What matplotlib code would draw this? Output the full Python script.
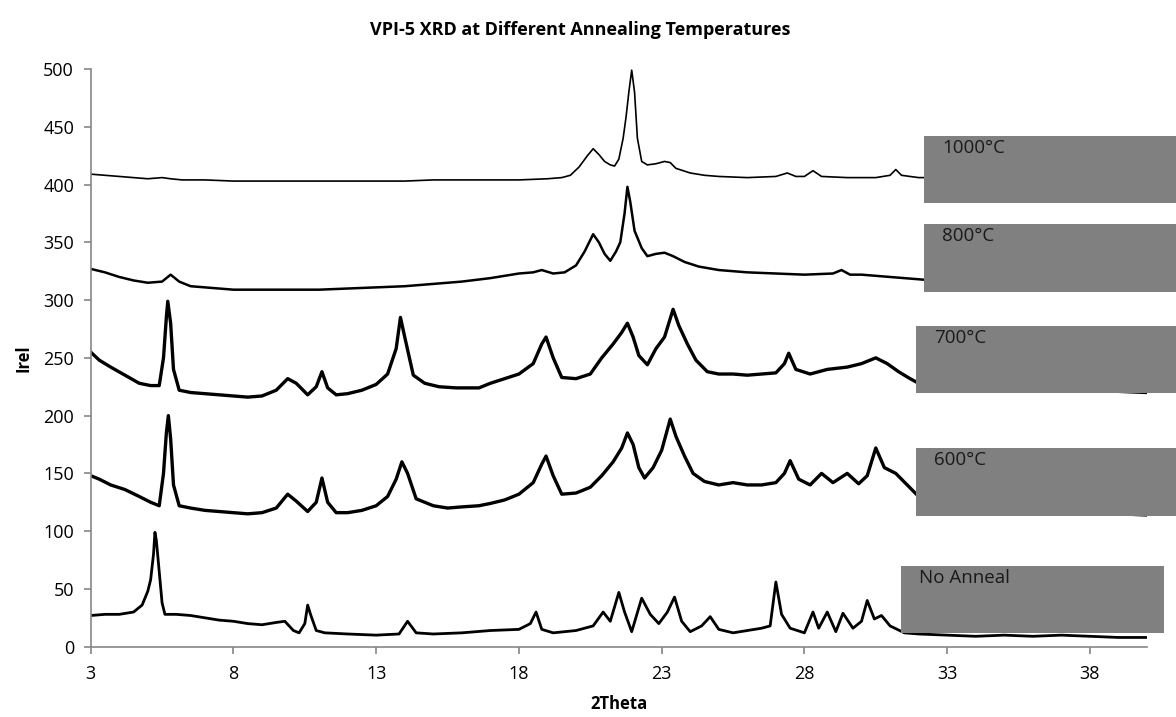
import matplotlib
matplotlib.use("Agg")
from matplotlib import pyplot as plt
from matplotlib.patches import Rectangle

# (2theta, Irel), one list per sample
no_anneal = [(3.0, 27), (3.5, 28), (4.0, 28), (4.5, 30), (4.8, 36), (5.0, 48), (5.1, 58),
             (5.2, 80), (5.25, 99), (5.3, 92), (5.4, 65), (5.5, 38), (5.6, 28), (6.0, 28),
             (6.5, 27), (7.0, 25), (7.5, 23), (8.0, 22), (8.5, 20), (9.0, 19), (9.5, 21),
             (9.8, 22), (10.1, 14), (10.3, 12), (10.5, 20), (10.6, 36), (10.7, 28), (10.9, 14),
             (11.2, 12), (12.0, 11), (13.0, 10), (13.8, 11), (14.1, 22), (14.4, 12), (15.0, 11),
             (16.0, 12), (17.0, 14), (18.0, 15), (18.4, 20), (18.6, 30), (18.8, 15), (19.2, 12),
             (20.0, 14), (20.6, 18), (20.95, 30), (21.2, 22), (21.5, 47), (21.7, 30), (21.95, 13),
             (22.3, 42), (22.6, 28), (22.9, 20), (23.2, 30), (23.45, 43), (23.7, 22), (24.0, 13),
             (24.4, 18), (24.7, 26), (25.0, 15), (25.5, 12), (26.0, 14), (26.5, 16), (26.8, 18),
             (27.0, 56), (27.2, 28), (27.5, 16), (28.0, 12), (28.3, 30), (28.5, 16), (28.8, 30),
             (29.1, 13), (29.35, 29), (29.7, 16), (30.0, 22), (30.2, 40), (30.45, 24), (30.7, 27),
             (31.0, 18), (31.5, 12), (32.0, 11), (33, 10), (34, 9), (35, 10), (36, 9), (37, 10),
             (38, 9), (39, 8), (40, 8)]

t600 = [(3.0, 148), (3.3, 145), (3.7, 140), (4.2, 136), (4.7, 130), (5.1, 125), (5.4, 122),
        (5.55, 150), (5.65, 185), (5.72, 200), (5.8, 180), (5.9, 140), (6.1, 122), (6.5, 120),
        (7.0, 118), (7.5, 117), (8.0, 116), (8.5, 115), (9.0, 116), (9.5, 120), (9.9, 132),
        (10.2, 126), (10.6, 117), (10.9, 125), (11.1, 146), (11.3, 125), (11.6, 116), (12.0, 116),
        (12.5, 118), (13.0, 122), (13.4, 130), (13.7, 145), (13.9, 160), (14.1, 150), (14.4, 128),
        (15.0, 122), (15.5, 120), (16.0, 121), (16.6, 122), (17.0, 124), (17.5, 127), (18.0, 132),
        (18.5, 142), (18.8, 158), (18.95, 165), (19.2, 148), (19.5, 132), (20.0, 133), (20.5, 138),
        (20.9, 148), (21.3, 160), (21.6, 172), (21.8, 185), (22.0, 175), (22.2, 155), (22.4, 146),
        (22.7, 155), (23.0, 170), (23.3, 197), (23.5, 182), (23.8, 165), (24.1, 150), (24.5, 143),
        (25.0, 140), (25.5, 142), (26.0, 140), (26.5, 140), (27.0, 142), (27.3, 150), (27.5, 161),
        (27.8, 145), (28.2, 140), (28.6, 150), (29.0, 142), (29.5, 150), (29.9, 141), (30.2, 148),
        (30.5, 172), (30.8, 155), (31.2, 150), (31.6, 140), (32.0, 130), (33, 125), (34, 122),
        (35, 120), (36, 118), (37, 117), (38, 116), (39, 115), (40, 114)]

t700 = [(3.0, 255), (3.3, 248), (3.7, 242), (4.2, 235), (4.7, 228), (5.1, 226), (5.4, 226),
        (5.55, 250), (5.65, 285), (5.7, 299), (5.8, 280), (5.9, 240), (6.1, 222), (6.5, 220),
        (7.0, 219), (7.5, 218), (8.0, 217), (8.5, 216), (9.0, 217), (9.5, 222), (9.9, 232),
        (10.2, 228), (10.6, 218), (10.9, 225), (11.1, 238), (11.3, 224), (11.6, 218), (12.0, 219),
        (12.5, 222), (13.0, 227), (13.4, 236), (13.7, 258), (13.85, 285), (14.0, 268), (14.3, 235),
        (14.7, 228), (15.2, 225), (15.8, 224), (16.6, 224), (17.0, 228), (17.5, 232), (18.0, 236),
        (18.5, 245), (18.8, 262), (18.95, 268), (19.2, 250), (19.5, 233), (20.0, 232), (20.5, 236),
        (20.9, 250), (21.3, 262), (21.6, 272), (21.8, 280), (22.0, 268), (22.2, 252), (22.5, 244),
        (22.8, 258), (23.1, 268), (23.4, 292), (23.6, 278), (23.9, 262), (24.2, 248), (24.6, 238),
        (25.0, 236), (25.5, 236), (26.0, 235), (26.5, 236), (27.0, 237), (27.3, 245), (27.45, 254),
        (27.7, 240), (28.2, 236), (28.8, 240), (29.5, 242), (30.0, 245), (30.5, 250), (30.9, 245),
        (31.3, 238), (31.7, 232), (32.0, 228), (33, 225), (34, 224), (35, 223), (36, 223),
        (37, 222), (38, 222), (39, 221), (40, 220)]

t800 = [(3.0, 327), (3.5, 324), (4.0, 320), (4.5, 317), (5.0, 315), (5.5, 316), (5.8, 322),
        (6.1, 316), (6.5, 312), (7.0, 311), (8.0, 309), (9.0, 309), (10.0, 309), (11.0, 309),
        (12.0, 310), (13.0, 311), (14.0, 312), (15.0, 314), (16.0, 316), (17.0, 319), (17.5, 321),
        (18.0, 323), (18.5, 324), (18.8, 326), (19.2, 323), (19.6, 324), (20.0, 330), (20.3, 342),
        (20.6, 357), (20.8, 350), (21.0, 340), (21.2, 334), (21.4, 342), (21.55, 350), (21.7, 375),
        (21.8, 398), (21.9, 385), (22.05, 360), (22.3, 345), (22.5, 338), (22.8, 340), (23.1, 341),
        (23.4, 338), (23.8, 333), (24.3, 329), (25.0, 326), (25.5, 325), (26.0, 324), (27.0, 323),
        (28.0, 322), (29.0, 323), (29.3, 326), (29.6, 322), (30.0, 322), (31.0, 320), (32.0, 318),
        (33, 316), (34, 315), (35, 314), (36, 313), (37, 312), (38, 312), (39, 311), (40, 310)]

t1000 = [(3.0, 409), (3.5, 408), (4.0, 407), (4.5, 406), (5.0, 405), (5.5, 406), (5.8, 405),
         (6.2, 404), (7.0, 404), (8.0, 403), (9.0, 403), (10.0, 403), (11.0, 403), (12.0, 403),
         (13.0, 403), (14.0, 403), (15.0, 404), (16.0, 404), (17.0, 404), (18.0, 404), (19.0, 405),
         (19.5, 406), (19.8, 408), (20.1, 415), (20.4, 425), (20.6, 431), (20.8, 426), (21.0, 420),
         (21.2, 417), (21.35, 416), (21.5, 422), (21.65, 440), (21.75, 458), (21.85, 480),
         (21.95, 499), (22.05, 480), (22.15, 440), (22.3, 420), (22.5, 417), (22.8, 418),
         (23.1, 420), (23.3, 419), (23.5, 414), (24.0, 410), (24.5, 408), (25.0, 407), (26.0, 406),
         (27.0, 407), (27.4, 410), (27.7, 407), (28.0, 407), (28.3, 412), (28.6, 407), (29.5, 406),
         (30.5, 406), (31.0, 408), (31.2, 413), (31.4, 408), (32.0, 406), (33, 406), (34, 405),
         (35, 405), (36, 405), (37, 405), (38, 405), (39, 405), (40, 405)]

labels = ["1000°C", "800°C", "700°C", "600°C", "No Anneal"]
series = [t1000, t800, t700, t600, no_anneal]
widths = [1.2, 1.8, 2.4, 2.4, 2.0]

# grey label boxes, pixel boxes (x0, y0 from top, x1, y1)
boxes = [(924, 136, 1176, 203), (924, 224, 1176, 292), (916, 326, 1176, 393),
         (916, 448, 1176, 516), (901, 566, 1164, 633)]

W, H = 1176, 717
plt.rcParams["font.family"] = ["Open Sans", "DejaVu Sans"]
fig = plt.figure(figsize=(W / 100, H / 100), dpi=100)
ax = fig.add_axes([90.7 / W, 1 - 646.7 / H, (1147 - 90.7) / W, (646.7 - 69) / H])

for pts, lw in zip(series, widths):
    xs = [p[0] for p in pts]
    ys = [p[1] for p in pts]
    ax.plot(xs, ys, color="black", lw=lw)

ax.set_xlim(3, 40)
ax.set_ylim(0, 500)
ax.set_xticks(range(3, 40, 5))
ax.set_yticks(range(0, 501, 50))
for s in ["top", "right"]:
    ax.spines[s].set_visible(False)
for s in ["left", "bottom"]:
    ax.spines[s].set_color("#868686")
    ax.spines[s].set_linewidth(1.2)
ax.tick_params(axis="both", colors="#868686", labelcolor="black", labelsize=13,
               length=5, width=1.2)
ax.tick_params(axis="x", pad=8)
ax.tick_params(axis="y", pad=7)

ax.set_xlabel("2Theta", fontsize=12, fontweight="bold", labelpad=9)
ax.set_ylabel("Irel", fontsize=12, fontweight="bold", labelpad=8)
fig.text(0.4935, 1 - 30 / H, "VPI-5 XRD at Different Annealing Temperatures",
         ha="center", va="center", fontsize=13, fontweight="bold")

for (x0, y0, x1, y1), lab in zip(boxes, labels):
    fig.add_artist(Rectangle((x0 / W, 1 - y1 / H), (x1 - x0) / W, (y1 - y0) / H,
                             transform=fig.transFigure, facecolor="#808080",
                             edgecolor="none", zorder=5))
    fig.text((x0 + 18) / W, 1 - (y0 + 3) / H, lab, ha="left", va="top",
             fontsize=13.5, color="#1a1a1a", zorder=6)

fig.savefig("out.png", dpi=100)
